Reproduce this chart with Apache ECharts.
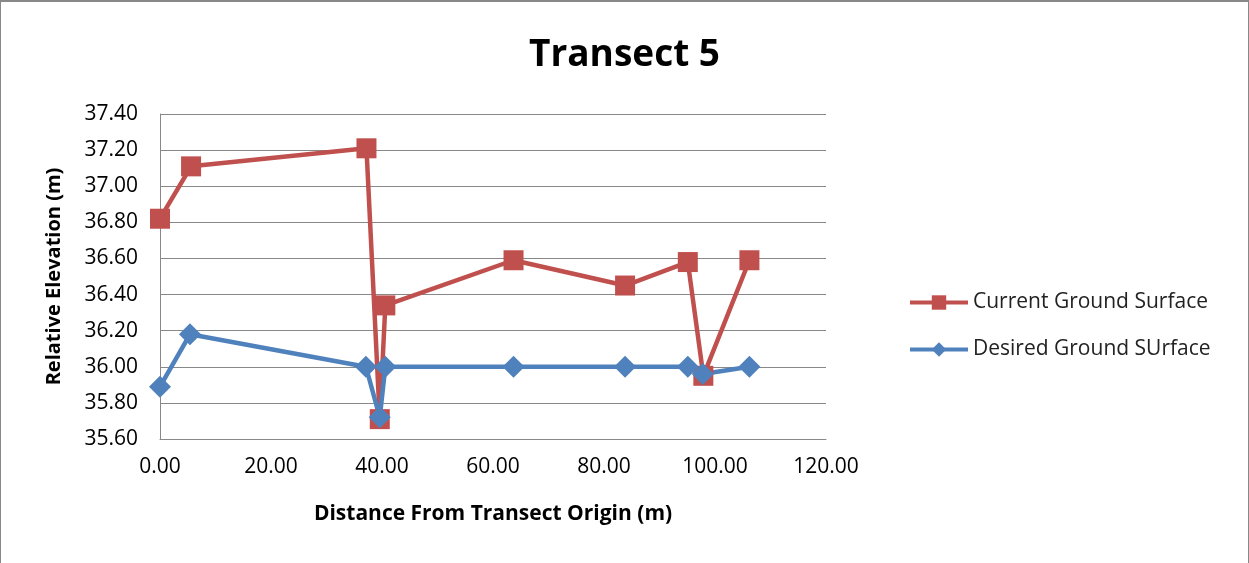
<!DOCTYPE html>
<html>
<head>
<meta charset="utf-8">
<script src="https://cdn.jsdelivr.net/npm/echarts@6/dist/echarts.min.js"></script>
<style>
html,body{margin:0;padding:0;background:#fff;}
#frame{position:absolute;left:0;top:0;width:1247px;height:561px;border:1px solid #888;border-top:2px solid #888;box-sizing:content-box;}
#c{width:1249px;height:563px;position:absolute;left:0;top:0;}
</style>
</head>
<body>
<div id="frame"></div>
<div id="c"></div>
<script>
const titleText = "Transect 5";
const xAxisName = "Distance From Transect Origin (m)";
const yAxisName = "Relative Elevation (m)";
const seriesNames = ["Current Ground Surface", "Desired Ground SUrface"];
const currentX = [0.0, 5.6, 37.2, 39.6, 40.6, 63.7, 83.8, 95.1, 97.9, 106.2];
const currentY = [36.82, 37.11, 37.21, 35.71, 36.34, 36.59, 36.45, 36.58, 35.95, 36.59];
const desiredX = [0.0, 5.4, 37.1, 39.6, 40.6, 63.7, 83.8, 95.1, 97.8, 106.2];
const desiredY = [35.89, 36.18, 36.00, 35.72, 36.00, 36.00, 36.00, 36.00, 35.96, 36.00];

const fontFam = "'Open Sans', 'Liberation Sans', sans-serif";
const chart = echarts.init(document.getElementById('c'));
chart.setOption({
  animation: false,
  title: {
    text: titleText, left: 'center', top: 32,
    textStyle: {fontFamily: fontFam, fontSize: 37, fontWeight: 'bold', color: '#000'}
  },
  legend: {
    orient: 'vertical', left: 903, top: 287,
    itemWidth: 58, itemHeight: 18, itemGap: 26,
    textStyle: {fontFamily: fontFam, fontSize: 21, color: '#222'},
    lineStyle: {width: 4},
    data: seriesNames
  },
  grid: {left: 160, right: 423, top: 114, bottom: 124, containLabel: false},
  xAxis: {
    type: 'value', min: 0, max: 120, interval: 20,
    name: xAxisName, nameLocation: 'middle', nameGap: 65,
    nameTextStyle: {fontFamily: fontFam, fontSize: 21, fontWeight: 'bold', color: '#000'},
    axisLine: {show: true, lineStyle: {color: '#888', width: 1}},
    axisTick: {show: false},
    splitLine: {show: false},
    axisLabel: {fontFamily: fontFam, fontSize: 21, color: '#000', margin: 18,
      formatter: v => v.toFixed(2)}
  },
  yAxis: {
    type: 'value', min: 35.6, max: 37.4, interval: 0.2,
    name: yAxisName, nameLocation: 'middle', nameGap: 96, nameRotate: 90,
    nameTextStyle: {fontFamily: fontFam, fontSize: 20, fontWeight: 'bold', color: '#000'},
    axisLine: {show: true, lineStyle: {color: '#888', width: 1}},
    axisTick: {show: false},
    splitLine: {show: true, lineStyle: {color: '#888', width: 1}},
    axisLabel: {fontFamily: fontFam, fontSize: 21, color: '#000', margin: 22,
      formatter: v => v.toFixed(2)}
  },
  series: [
    {
      name: seriesNames[0], type: 'line',
      data: currentX.map((x, i) => [x, currentY[i]]),
      symbol: 'rect', symbolSize: 20,
      lineStyle: {color: '#C0504D', width: 4.5},
      itemStyle: {color: '#C0504D'}
    },
    {
      name: seriesNames[1], type: 'line',
      data: desiredX.map((x, i) => [x, desiredY[i]]),
      symbol: 'diamond', symbolSize: 22,
      lineStyle: {color: '#4F81BD', width: 4.5},
      itemStyle: {color: '#4F81BD'}
    }
  ]
});
</script>
</body>
</html>
